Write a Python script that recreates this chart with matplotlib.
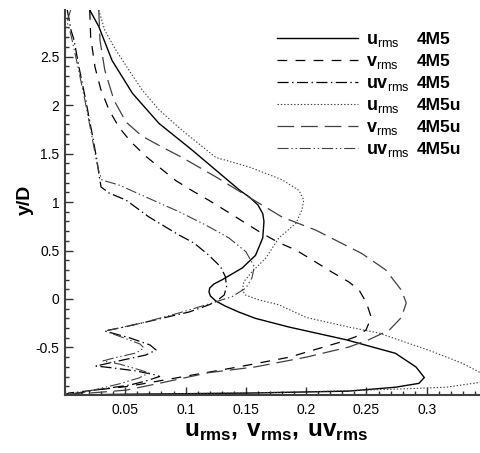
import matplotlib

matplotlib.use("Agg")

import matplotlib.pyplot as plt
from matplotlib.lines import Line2D
from matplotlib.ticker import FuncFormatter, MultipleLocator

plt.rcParams["font.family"] = ["Liberation Sans", "DejaVu Sans"]
plt.rcParams["mathtext.fontset"] = "custom"
plt.rcParams["mathtext.rm"] = "Liberation Sans"
plt.rcParams["mathtext.bf"] = "Liberation Sans:bold"
plt.rcParams["lines.scale_dashes"] = False

# RMS fluctuation profiles against y/D, case 4M5
u_4m5_y = [2.98, 2.81, 2.46, 2.12, 1.81, 1.54, 1.33, 1.12, 1.05, 0.97, 0.88, 0.80, 0.63, 0.45,
           0.32, 0.196, 0.155, 0.113, 0.072, 0.031, -0.02, -0.072, -0.134, -0.20, -0.29, -0.42,
           -0.56, -0.70, -0.81, -0.87, -0.91, -0.95, -0.97, -0.98, -0.99]
u_4m5_x = [0.0205, 0.028, 0.039, 0.056, 0.078, 0.105, 0.125, 0.145, 0.153, 0.160, 0.164, 0.165,
           0.164, 0.158, 0.147, 0.130, 0.1235, 0.120, 0.1194, 0.1206, 0.125, 0.1327, 0.144, 0.158,
           0.186, 0.233, 0.274, 0.291, 0.298, 0.2935, 0.274, 0.235, 0.153, 0.070, 0.0]

v_4m5_y = [2.98, 2.70, 2.39, 2.165, 1.95, 1.77, 1.62, 1.47, 1.36, 1.22, 1.12, 1.02, 0.89, 0.78,
           0.68, 0.58, 0.505, 0.38, 0.28, 0.175, 0.09, -0.04, -0.19, -0.32, -0.39, -0.44, -0.60,
           -0.70, -0.79, -0.90, -0.97, -0.99]
v_4m5_x = [0.0205, 0.0213, 0.0249, 0.0296, 0.0365, 0.0448, 0.0547, 0.0672, 0.078, 0.092, 0.105,
           0.119, 0.136, 0.150, 0.163, 0.1775, 0.1915, 0.208, 0.221, 0.2355, 0.244, 0.250, 0.254,
           0.2496, 0.241, 0.2297, 0.186, 0.144, 0.103, 0.053, 0.003, 0.0]

uv_4m5_y = [2.98, 2.77, 2.67, 2.39, 2.05, 1.71, 1.43, 1.28, 1.155, 1.093, 1.02, 0.845, 0.66,
            0.577, 0.454, 0.333, 0.23, 0.127, 0.041, -0.028, -0.062, -0.134, -0.165, -0.247,
            -0.30, -0.33, -0.402, -0.474, -0.526, -0.577, -0.629, -0.691, -0.711, -0.742,
            -0.784, -0.799, -0.845, -0.887, -0.938, -0.979, -0.99]
uv_4m5_x = [0.0019, 0.005, 0.0075, 0.0116, 0.0172, 0.0224, 0.0265, 0.0282, 0.0299, 0.0365,
            0.0506, 0.0697, 0.0945, 0.107, 0.119, 0.129, 0.133, 0.134, 0.132, 0.125, 0.119,
            0.103, 0.092, 0.064, 0.0448, 0.0329, 0.0539, 0.0705, 0.0755, 0.0672, 0.0481,
            0.0257, 0.0398, 0.0589, 0.0755, 0.0785, 0.0672, 0.0539, 0.0257, 0.0066, 0.0]

# case 4M5u
u_4m5u_y = [2.98, 2.77, 2.57, 2.36, 2.155, 1.95, 1.74, 1.46, 1.36, 1.23, 1.12, 1.02, 0.92, 0.78,
            0.63, 0.42, 0.28, 0.18, 0.09, 0.04, -0.01, -0.06, -0.19, -0.29, -0.35, -0.53, -0.66,
            -0.75, -0.81, -0.86, -0.91, -0.93, -0.96, -0.98, -0.99]
u_4m5u_x = [0.028, 0.033, 0.042, 0.053, 0.064, 0.078, 0.097, 0.125, 0.153, 0.180, 0.194, 0.198,
            0.1965, 0.1915, 0.1774, 0.1664, 0.155, 0.1484, 0.147, 0.1498, 0.161, 0.1774, 0.200,
            0.2355, 0.260, 0.302, 0.329, 0.343, 0.352, 0.344, 0.316, 0.274, 0.194, 0.070, 0.0]

v_4m5u_y = [2.98, 2.67, 2.36, 2.05, 1.825, 1.68, 1.57, 1.46, 1.26, 1.05, 0.845, 0.71, 0.47, 0.30,
            0.09, -0.04, -0.19, -0.32, -0.42, -0.495, -0.60, -0.70, -0.76, -0.87, -0.94, -0.99]
v_4m5u_x = [0.028, 0.029, 0.033, 0.0406, 0.0506, 0.0638, 0.080, 0.097, 0.125, 0.1526, 0.180,
            0.208, 0.246, 0.266, 0.279, 0.283, 0.279, 0.269, 0.252, 0.2355, 0.200, 0.158, 0.119,
            0.078, 0.0506, 0.0]

uv_4m5u_y = [2.98, 2.86, 2.72, 2.39, 2.05, 1.71, 1.43, 1.31, 1.227, 1.175, 1.052, 0.90, 0.763,
             0.629, 0.488, 0.333, 0.216, 0.113, 0.024, -0.041, -0.113, -0.144, -0.247, -0.30,
             -0.33, -0.402, -0.464, -0.505, -0.557, -0.608, -0.639, -0.670, -0.732, -0.763,
             -0.814, -0.876, -0.938, -0.99]
uv_4m5u_x = [0.0047, 0.0017, 0.005, 0.0108, 0.0165, 0.0218, 0.026, 0.0282, 0.0307, 0.0448,
             0.067, 0.0945, 0.1167, 0.136, 0.150, 0.157, 0.155, 0.150, 0.1385, 0.122, 0.103,
             0.0945, 0.064, 0.0448, 0.0332, 0.0489, 0.0622, 0.0655, 0.0589, 0.0406, 0.0315,
             0.0448, 0.0622, 0.0697, 0.0614, 0.0448, 0.024, 0.0]

SERIES = [
    (u_4m5_x, u_4m5_y, "u", "4M5", dict(color="black", lw=1.0, ls="-")),
    (v_4m5_x, v_4m5_y, "v", "4M5", dict(color="black", lw=0.9, dashes=(7, 6))),
    (uv_4m5_x, uv_4m5_y, "uv", "4M5", dict(color="black", lw=0.9, dashes=(8, 2.5, 1, 2.5))),
    (u_4m5u_x, u_4m5u_y, "u", "4M5u", dict(color="0.25", lw=0.8, dashes=(1, 1.4))),
    (v_4m5u_x, v_4m5u_y, "v", "4M5u", dict(color="0.25", lw=0.9, dashes=(12, 5))),
    (uv_4m5u_x, uv_4m5u_y, "uv", "4M5u",
     dict(color="0.25", lw=0.8, dashes=(8, 2, 1, 2, 1, 2))),
]

W, H = 481, 453
fig = plt.figure(figsize=(W / 100, H / 100), dpi=100)
ax = fig.add_axes([65 / W, 1 - 395 / H, (W - 65) / W, (395 - 10) / H])

for xs, ys, _, _, style in SERIES:
    ax.plot(xs, ys, solid_joinstyle="round", **style)

ax.set_xlim(0, 0.345)
ax.set_ylim(-0.99, 2.98)
ax.set_xticks([0.05, 0.1, 0.15, 0.2, 0.25, 0.3])
ax.xaxis.set_minor_locator(MultipleLocator(0.01))
ax.yaxis.set_major_locator(MultipleLocator(0.5))
ax.yaxis.set_minor_locator(MultipleLocator(0.1))
ax.xaxis.set_major_formatter(FuncFormatter(lambda v, _: f"{v:g}"))
ax.yaxis.set_major_formatter(FuncFormatter(lambda v, _: f"{v:g}"))
ax.tick_params(which="both", direction="in", width=1.0, labelsize=10, colors="0.2",
               labelcolor="black")
ax.tick_params(which="major", length=6)
ax.tick_params(which="minor", length=3)
ax.tick_params(axis="x", pad=6)
ax.tick_params(axis="y", pad=4)
for side in ("top", "right"):
    ax.spines[side].set_visible(False)
for side in ("left", "bottom"):
    ax.spines[side].set_linewidth(1.5)
    ax.spines[side].set_color("0.25")

fig.text(25 / W, 1 - 200 / H, "y/D", rotation=90, ha="center", va="center",
         fontsize=14, fontweight="bold")
fig.text(276 / W, 1 - 432 / H,
         r"$\mathbf{u}_{\mathbf{rms}}\mathbf{,\,v}_{\mathbf{rms}}\mathbf{,\,uv}_{\mathbf{rms}}$",
         ha="center", va="center", fontsize=17.5)

# key, drawn in figure pixels
for i, (_, _, name, case, style) in enumerate(SERIES):
    ypx = 38 + 22 * i
    fy = 1 - ypx / H
    base = 1 - (ypx + 6) / H
    fig.add_artist(Line2D([277 / W, 358 / W], [fy, fy], transform=fig.transFigure, **style))
    fig.text(366 / W, base, rf"$\mathbf{{{name}}}_{{\mathrm{{rms}}}}$", ha="left",
             va="baseline", fontsize=13)
    fig.text(417 / W, base, case, ha="left", va="baseline", fontsize=12.5, fontweight="bold")

fig.savefig("out.png", dpi=100)
